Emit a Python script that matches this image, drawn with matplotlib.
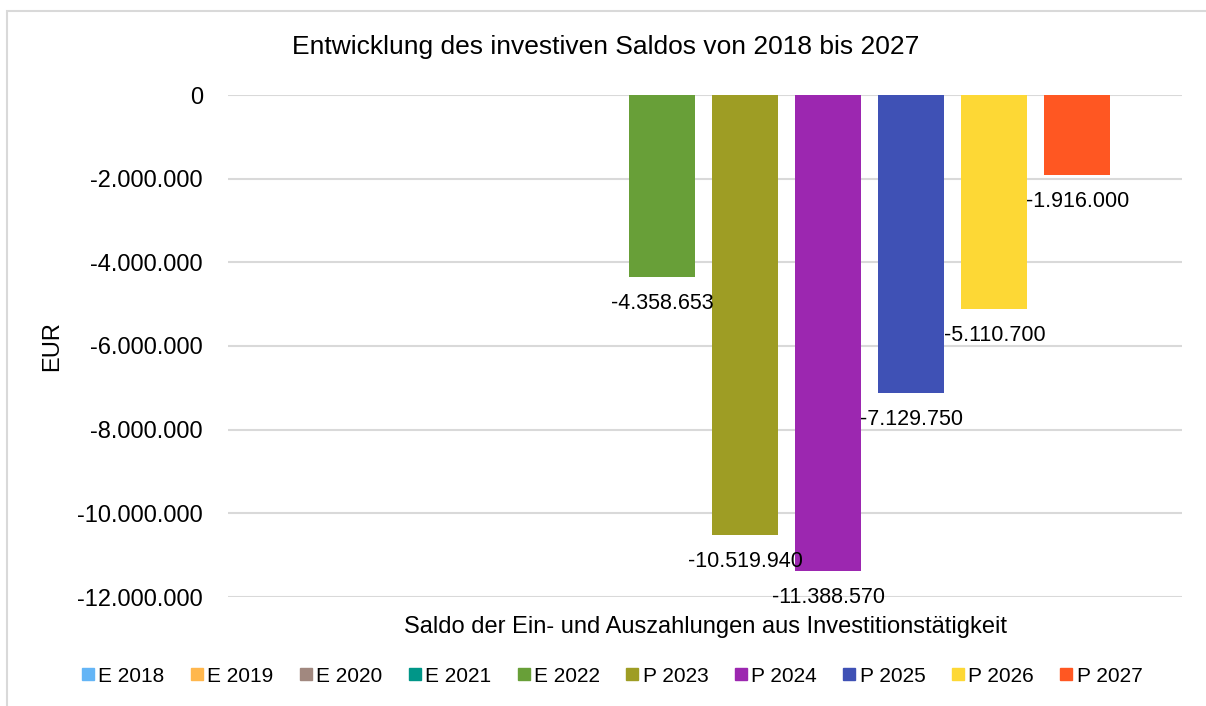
import numpy as np
import matplotlib
matplotlib.use("Agg")
import matplotlib.pyplot as plt
from matplotlib.ticker import FuncFormatter
from matplotlib.patches import Rectangle
from matplotlib.lines import Line2D

plt.rcParams['font.family'] = ['Liberation Sans', 'DejaVu Sans']

# Daten
series = ['E 2018', 'E 2019', 'E 2020', 'E 2021', 'E 2022',
          'P 2023', 'P 2024', 'P 2025', 'P 2026', 'P 2027']
values = [np.nan, np.nan, np.nan, np.nan, -4358653,
          -10519940, -11388570, -7129750, -5110700, -1916000]
colors = ['#64B5F6', '#FFB74D', '#A1887F', '#009688', '#689F38',
          '#9E9D24', '#9C27B0', '#3F51B5', '#FDD835', '#FF5722']
category = 'Saldo der Ein- und Auszahlungen aus Investitionstätigkeit'


def de_fmt(v):
    s = f"{abs(int(round(v))):,}".replace(',', '.')
    return ('-' if v < 0 else '') + s


fig = plt.figure(figsize=(12.06, 7.06), dpi=100)
# Rahmen
fig.patches.append(Rectangle((7 / 1206, -0.05), 1.1, 1 - 11 / 706 + 0.05,
                             transform=fig.transFigure, fill=False,
                             edgecolor='#d9d9d9', linewidth=1.5))

ax = fig.add_axes([228 / 1206, 1 - 597 / 706, (1182 - 228) / 1206, (597 - 95) / 706])

x = np.arange(len(series))
for i, (name, v, c) in enumerate(zip(series, values, colors)):
    ax.bar(x[i], 0 if np.isnan(v) else v, width=0.795, color=c, label=name, zorder=2)
    if not np.isnan(v):
        ax.annotate(de_fmt(v), (x[i], v), xytext=(0, -19), textcoords='offset points',
                    ha='center', va='center', fontsize=15.5, color='#000000', zorder=3)

ax.set_xlim(-1.23, 10.26)
ax.set_ylim(-12000000, 0)
ax.set_yticks(np.arange(-12000000, 1, 2000000))
ax.yaxis.set_major_formatter(FuncFormatter(lambda v, p: de_fmt(v)))
ax.set_xticks([])
ax.tick_params(axis='y', length=0, labelsize=17, pad=18)
ax.grid(axis='y', color='#d9d9d9', linewidth=1.5, zorder=0)
ax.set_axisbelow(True)
for s in ax.spines.values():
    s.set_visible(False)

ax.set_ylabel('EUR', fontsize=17)
ax.yaxis.set_label_coords(-0.173, 0.5)
ax.set_xlabel(category, fontsize=17, labelpad=14)

fig.text(0.502, 1 - 47 / 706, 'Entwicklung des investiven Saldos von 2018 bis 2027',
         ha='center', va='center', fontsize=19)

handles = [Line2D([], [], marker='s', linestyle='none', markersize=8,
                  markerfacecolor=c, markeredgecolor=c) for c in colors]
fig.legend(handles, series, loc='center', bbox_to_anchor=(612 / 1206, 1 - 676 / 706),
           ncol=10, frameon=False, fontsize=15, handlelength=0.6, handletextpad=0.2,
           columnspacing=1.25)

fig.savefig('out.png', dpi=100)
